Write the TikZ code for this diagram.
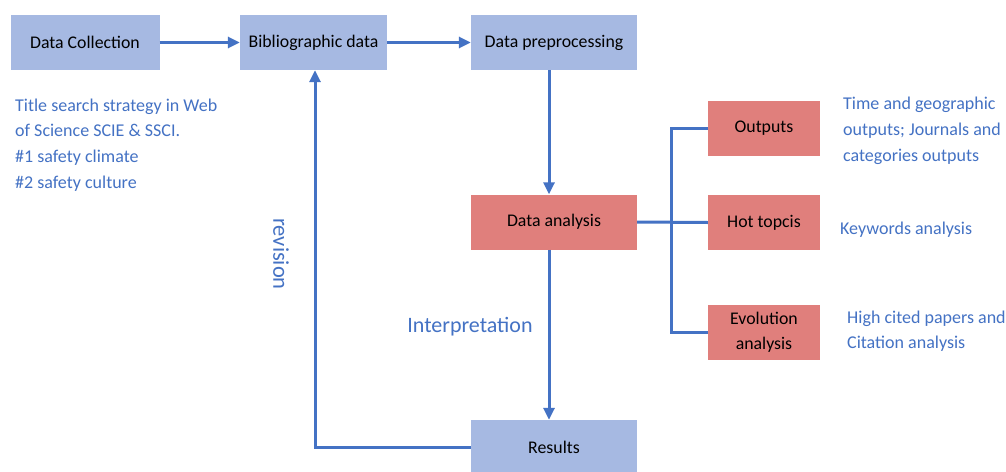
\documentclass[tikz,border=0pt]{standalone}
\usepackage{fontspec}
\setmainfont{Carlito}
\usetikzlibrary{arrows.meta}
\definecolor{boxblue}{HTML}{A6B9E2}
\definecolor{boxred}{HTML}{E07F7C}
\definecolor{lineblue}{HTML}{4472C4}
\begin{document}
\begin{tikzpicture}[x=1pt,y=-1pt,
  bbox/.style={fill=boxblue,draw=none,minimum height=55pt,inner sep=0pt,font=\fontsize{17.8}{21}\selectfont,text=black},
  rbox/.style={fill=boxred,draw=none,minimum height=55pt,inner sep=0pt,font=\fontsize{17.8}{21}\selectfont,text=black,align=center},
  conn/.style={draw=lineblue,line width=3pt},
  arr/.style={conn,-{Triangle[width=11pt,length=12pt]}},
  note/.style={text=lineblue,font=\fontsize{18}{25.7}\selectfont,align=left,inner sep=0pt,anchor=north west}
]
\useasboundingbox (0,0) rectangle (1006,471);
\fill[white] (0,0) rectangle (1006,471);
\node[bbox,minimum width=149pt] (dc) at (85,42.5) {Data Collection};
\node[bbox,minimum width=147pt] (bd) at (313.5,42.5) {Bibliographic data};
\node[bbox,minimum width=166pt] (dp) at (554,42.5) {Data preprocessing};
\node[rbox,minimum width=166pt] (da) at (554,222) {Data analysis};
\node[bbox,minimum width=166pt] (res) at (554,447.5) {Results};
\node[rbox,minimum width=112pt] (out) at (764,128.5) {Outputs};
\node[rbox,minimum width=112pt] (hot) at (764,222.5) {Hot topcis};
\node[rbox,minimum width=112pt,font=\fontsize{17.8}{25}\selectfont] (evo) at (764,332.5) {Evolution\\analysis};

\draw[arr] (dc.east) -- (bd.west);
\draw[arr] (bd.east) -- (dp.west);
\draw[arr] (dp.south -| 549,0) -- (da.north -| 549,0);
\draw[arr] (da.south -| 549,0) -- (res.north -| 549,0);
\coordinate (rv) at (315,447.5);
\draw[arr] (res.west) -- (rv) -- (bd.south -| rv);
\coordinate (sp) at (671,222);
\draw[conn] (da.east) -- (hot.west);
\draw[conn] (out.west) -- (out.west -| sp) -- (evo.west -| sp) -- (evo.west);

\node[note] (t1) at (15,98.5) {Title search strategy in Web\\of Science SCIE \& SSCI.\\\#1 safety climate\\\#2 safety culture};
\node[note] (t2) at (843,97) {Time and geographic\\outputs; Journals and\\categories outputs};
\node[note,anchor=west] (t3) at (840,229.5) {Keywords analysis};
\node[note] (t4) at (847,310.5) {High cited papers and\\Citation analysis};
\node[text=lineblue,font=\fontsize{22.5}{26}\selectfont,rotate=-90] (rvl) at (281,254) {revision};
\node[text=lineblue,font=\fontsize{22}{26}\selectfont] (ip) at (470,327) {Interpretation};
\end{tikzpicture}
\end{document}
